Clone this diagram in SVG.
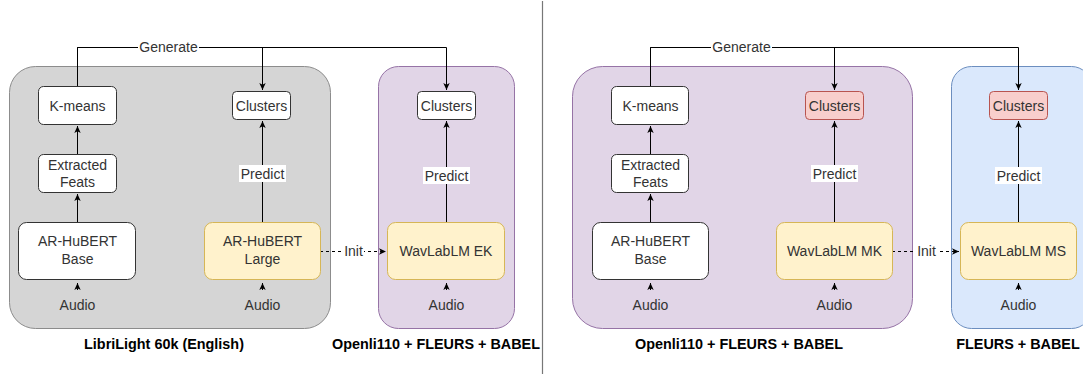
<svg xmlns="http://www.w3.org/2000/svg" width="1083" height="374" viewBox="0 0 1083 374">
<defs>
<marker id="arr" markerWidth="8" markerHeight="8" refX="7" refY="4" orient="auto" markerUnits="userSpaceOnUse">
<path d="M0,0.8 L7,4 L0,7.2 L1.8,4 Z" fill="#000"/>
</marker>
<style>
.t{font-family:"Liberation Sans",Arial,sans-serif;font-size:14px;fill:#333;text-anchor:middle}
.b{font-family:"Liberation Sans",Arial,sans-serif;font-size:14.4px;font-weight:bold;fill:#000;text-anchor:middle}
.box{fill:#fff;stroke:#333;stroke-width:1}
.yel{fill:#fff2cc;stroke:#d6b656;stroke-width:1}
.red{fill:#f8cecc;stroke:#b85450;stroke-width:1}
.gray{fill:#d5d5d5;stroke:#8c8c8c;stroke-width:1}
.pur{fill:#e1d5e7;stroke:#9673a6;stroke-width:1}
.blu{fill:#dae8fc;stroke:#6c8ebf;stroke-width:1}
.e{fill:none;stroke:#000;stroke-width:1}
.d{fill:none;stroke:#000;stroke-width:1;stroke-dasharray:3,3}
.lbg{fill:#fff}
</style>
</defs>
<rect width="1083" height="374" fill="#fff"/>
<line x1="542.5" y1="1" x2="542.5" y2="374" stroke="#777" stroke-width="1.2"/>

<g id="containers">
<g id="c-librilight"><rect class="gray" x="9.5" y="66.5" width="321" height="262" rx="26"/><text class="b" x="164" y="349">LibriLight 60k (English)</text></g>
<g id="c-openli-left"><rect class="pur" x="378.5" y="66.5" width="136" height="262" rx="20"/><text class="b" x="436" y="349">Openli110 + FLEURS + BABEL</text></g>
<g id="c-openli-right"><rect class="pur" x="572.5" y="66.5" width="340" height="262" rx="30"/><text class="b" x="739" y="349">Openli110 + FLEURS + BABEL</text></g>
<g id="c-fleurs"><rect class="blu" x="951.5" y="66.5" width="140" height="262" rx="20"/><text class="b" x="1018" y="349">FLEURS + BABEL</text></g>
</g>

<g id="connectors">
<path class="e" d="M77.5,86 V47.5 H262.5 V90" marker-end="url(#arr)"/>
<path class="e" d="M77.5,86 V47.5 H446.5 V90" marker-end="url(#arr)"/>
<rect class="lbg" x="138" y="39" width="61" height="16"/>
<text class="t" x="168.5" y="52">Generate</text>
<path class="e" d="M77.5,154 V126" marker-end="url(#arr)"/>
<path class="e" d="M77.5,222 V194" marker-end="url(#arr)"/>
<path class="e" d="M262.5,222 V121" marker-end="url(#arr)"/>
<rect class="lbg" x="239" y="165" width="47" height="17"/>
<text class="t" x="262.5" y="178.5">Predict</text>
<path class="e" d="M446.5,222 V121" marker-end="url(#arr)"/>
<rect class="lbg" x="423" y="167" width="47" height="17"/>
<text class="t" x="446.5" y="180.5">Predict</text>
<path class="d" d="M320,251.5 H386" marker-end="url(#arr)"/>
<rect class="lbg" x="343" y="243" width="21" height="16"/>
<text class="t" x="353.5" y="256">Init</text>
<path class="e" d="M77.5,290 V283" marker-end="url(#arr)"/>
<path class="e" d="M262.5,290 V283" marker-end="url(#arr)"/>
<path class="e" d="M446.5,290 V283" marker-end="url(#arr)"/>

<path class="e" d="M650.5,86 V47.5 H834.5 V90" marker-end="url(#arr)"/>
<path class="e" d="M650.5,86 V47.5 H1018.5 V90" marker-end="url(#arr)"/>
<rect class="lbg" x="711" y="39" width="61" height="16"/>
<text class="t" x="741.5" y="52">Generate</text>
<path class="e" d="M650.5,154 V126" marker-end="url(#arr)"/>
<path class="e" d="M650.5,222 V194" marker-end="url(#arr)"/>
<path class="e" d="M834.5,222 V121" marker-end="url(#arr)"/>
<rect class="lbg" x="811" y="165" width="47" height="17"/>
<text class="t" x="834.5" y="178.5">Predict</text>
<path class="e" d="M1018.5,222 V121" marker-end="url(#arr)"/>
<rect class="lbg" x="995" y="167" width="47" height="17"/>
<text class="t" x="1018.5" y="180.5">Predict</text>
<path class="d" d="M892,251.5 H959" marker-end="url(#arr)"/>
<rect class="lbg" x="916" y="243" width="21" height="16"/>
<text class="t" x="926.5" y="256">Init</text>
<path class="e" d="M650.5,290 V283" marker-end="url(#arr)"/>
<path class="e" d="M834.5,290 V283" marker-end="url(#arr)"/>
<path class="e" d="M1018.5,290 V283" marker-end="url(#arr)"/>
</g>

<g id="n-kmeans-l"><rect class="box" x="38.5" y="86.5" width="78" height="38" rx="5"/><text class="t" x="77.5" y="110.5">K-means</text></g>
<g id="n-feats-l"><rect class="box" x="38.5" y="154.5" width="78" height="38" rx="5"/><text class="t" x="77.5" y="169.5">Extracted</text><text class="t" x="77.5" y="186.5">Feats</text></g>
<g id="n-arbase-l"><rect class="box" x="18.5" y="222.5" width="117" height="57" rx="8"/><text class="t" x="77.5" y="246">AR-HuBERT</text><text class="t" x="77.5" y="264">Base</text></g>
<g id="n-audio-1"><text class="t" x="77.5" y="310">Audio</text></g>
<g id="n-clusters-l"><rect class="box" x="232.5" y="91.5" width="58" height="28" rx="4"/><text class="t" x="261.5" y="110.5">Clusters</text></g>
<g id="n-arlarge"><rect class="yel" x="204.5" y="222.5" width="116" height="57" rx="8"/><text class="t" x="262.5" y="246">AR-HuBERT</text><text class="t" x="262.5" y="264">Large</text></g>
<g id="n-audio-2"><text class="t" x="262.5" y="310">Audio</text></g>
<g id="n-clusters-ek"><rect class="box" x="417.5" y="91.5" width="58" height="28" rx="4"/><text class="t" x="446.5" y="110.5">Clusters</text></g>
<g id="n-wavek"><rect class="yel" x="387.5" y="222.5" width="117" height="57" rx="8"/><text class="t" x="446" y="256">WavLabLM EK</text></g>
<g id="n-audio-3"><text class="t" x="446.5" y="310">Audio</text></g>

<g id="n-kmeans-r"><rect class="box" x="611.5" y="86.5" width="77" height="38" rx="5"/><text class="t" x="650.5" y="110.5">K-means</text></g>
<g id="n-feats-r"><rect class="box" x="611.5" y="154.5" width="77" height="38" rx="5"/><text class="t" x="650.5" y="169.5">Extracted</text><text class="t" x="650.5" y="186.5">Feats</text></g>
<g id="n-arbase-r"><rect class="box" x="592.5" y="222.5" width="116" height="57" rx="8"/><text class="t" x="650.5" y="246">AR-HuBERT</text><text class="t" x="650.5" y="264">Base</text></g>
<g id="n-audio-4"><text class="t" x="650.5" y="310">Audio</text></g>
<g id="n-clusters-mk"><rect class="red" x="805.5" y="91.5" width="58" height="28" rx="4"/><text class="t" x="834.5" y="110.5">Clusters</text></g>
<g id="n-wavmk"><rect class="yel" x="776.5" y="222.5" width="116" height="57" rx="8"/><text class="t" x="834.5" y="256">WavLabLM MK</text></g>
<g id="n-audio-5"><text class="t" x="834.5" y="310">Audio</text></g>
<g id="n-clusters-ms"><rect class="red" x="989.5" y="91.5" width="58" height="28" rx="4"/><text class="t" x="1018.5" y="110.5">Clusters</text></g>
<g id="n-wavms"><rect class="yel" x="960.5" y="222.5" width="116" height="57" rx="8"/><text class="t" x="1018.5" y="256">WavLabLM MS</text></g>
<g id="n-audio-6"><text class="t" x="1018.5" y="310">Audio</text></g>
</svg>
